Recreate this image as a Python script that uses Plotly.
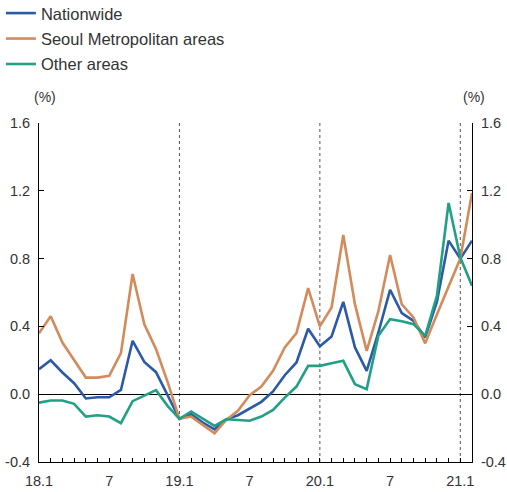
import plotly.graph_objects as go

# Monthly periods: 2018.1 .. 2021.2
periods = [f"{y}.{m}" for y in (18, 19, 20, 21) for m in range(1, 13)][:38]
x_tick_labels = [p if p.endswith(".1") else ("7" if p.endswith(".7") else "") for p in periods]

nationwide = [0.148, 0.200, 0.128, 0.065, -0.025, -0.018, -0.018, 0.025, 0.315, 0.190,
              0.130, -0.010, -0.145, -0.118, -0.167, -0.207, -0.148, -0.124, -0.085, -0.045,
              0.016, 0.112, 0.187, 0.386, 0.283, 0.341, 0.545, 0.276, 0.138, 0.364,
              0.616, 0.478, 0.433, 0.335, 0.545, 0.906, 0.800, 0.906]
seoul = [0.360, 0.460, 0.305, 0.200, 0.098, 0.098, 0.108, 0.242, 0.709, 0.413,
         0.266, 0.070, -0.145, -0.132, -0.183, -0.230, -0.152, -0.098, -0.006, 0.045,
         0.138, 0.276, 0.360, 0.626, 0.400, 0.512, 0.939, 0.530, 0.256, 0.490,
         0.821, 0.530, 0.453, 0.300, 0.470, 0.640, 0.800, 1.187]
other = [-0.050, -0.037, -0.037, -0.057, -0.132, -0.124, -0.132, -0.171, -0.041, -0.010,
         0.024, -0.070, -0.145, -0.102, -0.144, -0.187, -0.148, -0.152, -0.157, -0.132,
         -0.093, -0.020, 0.045, 0.167, 0.167, 0.183, 0.197, 0.059, 0.030, 0.345,
         0.443, 0.430, 0.413, 0.344, 0.580, 1.128, 0.807, 0.640]

y_tick_vals = [-0.4, 0.0, 0.4, 0.8, 1.2, 1.6]
y_tick_labels = ["-0.4", "0.0", "0.4", "0.8", "1.2", "1.6"]
year_starts = ["19.1", "20.1", "21.1"]

x = list(range(len(periods)))

BLUE = "#2b5aa6"
ORANGE = "#d38b5c"
GREEN = "#22a085"
TICKFONT = "Liberation Sans, Arial, Helvetica, sans-serif"
SANS = "Liberation Sans, Arial, Helvetica, sans-serif"

fig = go.Figure()
for name, vals, col, grp in [("Nationwide", nationwide, BLUE, "a"),
                             ("Seoul Metropolitan areas", seoul, ORANGE, "b"),
                             ("Other areas", other, GREEN, "c")]:
    fig.add_trace(go.Scatter(x=x, y=vals, mode="lines", name=name, legendgroup=grp,
                             line=dict(color=col, width=2.6)))
# invisible trace to carry the right-hand axis
fig.add_trace(go.Scatter(x=x, y=nationwide, yaxis="y2", mode="lines", showlegend=False,
                         hoverinfo="skip", line=dict(width=0), opacity=0))

for p in year_starts:
    xi = periods.index(p)
    fig.add_shape(type="line", xref="x", yref="paper", x0=xi, x1=xi, y0=0, y1=1,
                  line=dict(color="#555555", width=1, dash="dot"), layer="below")

yax = dict(range=[-0.4, 1.6], tickvals=y_tick_vals, ticktext=y_tick_labels,
           ticks="inside", ticklen=5, tickcolor="black", showline=True, linecolor="black",
           linewidth=1, showgrid=False, tickfont=dict(family=TICKFONT, size=14.5, color="#333333"),
           fixedrange=True, automargin=False)

fig.update_layout(
    width=507, height=492,
    margin=dict(l=39, r=35, t=123, b=30, autoexpand=False),
    paper_bgcolor="white", plot_bgcolor="white",
    xaxis=dict(range=[0, 37], tickvals=x, ticktext=x_tick_labels, ticks="inside",
               ticklen=4, tickcolor="black", showline=True, linecolor="black", linewidth=1,
               showgrid=False, zeroline=False, automargin=False,
               tickfont=dict(family=TICKFONT, size=14.5, color="#333333"), ticklabelstandoff=6),
    yaxis=dict(**yax, zeroline=True, zerolinecolor="black", zerolinewidth=1,
               ticklabelstandoff=5),
    yaxis2=dict(**yax, overlaying="y", side="right", anchor="x", zeroline=False,
                ticklabelstandoff=5),
    legend=dict(x=-0.088, y=1.375, xanchor="left", yanchor="top", traceorder="grouped",
                tracegroupgap=1, itemwidth=30, bgcolor="rgba(0,0,0,0)",
                font=dict(family=SANS, size=16.5, color="#333333")),
    annotations=[
        dict(text="(%)", xref="paper", yref="paper", x=0.015, y=1.077, showarrow=False,
             xanchor="center", yanchor="middle",
             font=dict(family=TICKFONT, size=14, color="#333333")),
        dict(text="(%)", xref="paper", yref="paper", x=1.005, y=1.077, showarrow=False,
             xanchor="center", yanchor="middle",
             font=dict(family=TICKFONT, size=14, color="#333333")),
    ],
)

fig.write_html("out.html", config={"displayModeBar": False},
               post_script="document.body.style.margin='0';")
